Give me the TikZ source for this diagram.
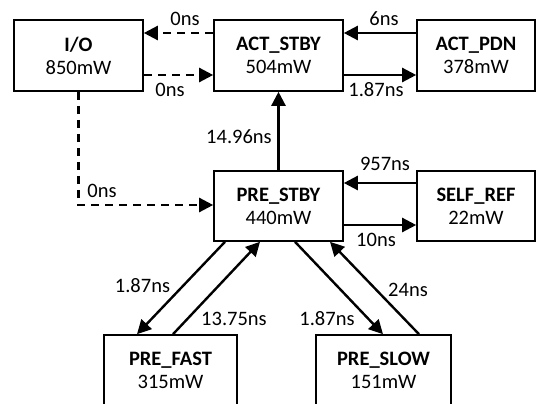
\documentclass[tikz,border=0pt]{standalone}
\usepackage{fontspec}
\setmainfont{Carlito}
\usetikzlibrary{arrows.meta}
\begin{document}
\begin{tikzpicture}[x=1pt,y=-1pt,
  box/.style={draw, line width=1.6pt, align=center, inner sep=0pt,
    font=\fontsize{20.5}{23}\selectfont},
  lbl/.style={inner sep=0pt, font=\fontsize{20.5}{23}\selectfont},
  arr/.style={line width=2.4pt, -{Triangle[length=14pt,width=14pt]}},
  darr/.style={arr, dash pattern=on 8pt off 6pt}]
\useasboundingbox (0,0) rectangle (536,404);
\node[box, minimum width=129pt, minimum height=71pt] (io) at (78.5,55.5) {\textbf{I/O}\\850mW};
\node[box, minimum width=129pt, minimum height=71pt] (act) at (278.5,55.5) {\textbf{ACT\_STBY}\\504mW};
\node[box, minimum width=118pt, minimum height=71pt] (pdn) at (476,55.5) {\textbf{ACT\_PDN}\\378mW};
\node[box, minimum width=129pt, minimum height=70pt] (pre) at (278.5,206) {\textbf{PRE\_STBY}\\440mW};
\node[box, minimum width=118pt, minimum height=70pt] (self) at (476,206) {\textbf{SELF\_REF}\\22mW};
\node[box, minimum width=133pt, minimum height=70pt] (fast) at (170.5,370) {\textbf{PRE\_FAST}\\315mW};
\node[box, minimum width=135pt, minimum height=70pt] (slow) at (383.5,370) {\textbf{PRE\_SLOW}\\151mW};
% top row
\draw[darr] ([yshift=22.5pt]act.west) -- ([yshift=22.5pt]io.east);
\draw[darr] ([yshift=-19.5pt]io.west -| io.east) -- ([yshift=-19.5pt]act.west);
\draw[arr] ([yshift=22.5pt]pdn.west) -- ([yshift=22.5pt]act.east);
\draw[arr] ([yshift=-19.5pt]act.east) -- ([yshift=-19.5pt]pdn.west);
% vertical
\draw[arr] (pre.north) -- (act.south);
\coordinate (corner) at (io.south |- pre.west);
\draw[darr] (io.south) -- ([yshift=1pt]corner) -- ([yshift=1pt]pre.west);
% self ref
\draw[arr] ([yshift=23pt]self.west) -- ([yshift=23pt]pre.east);
\draw[arr] ([yshift=-19pt]pre.east) -- ([yshift=-19pt]self.west);
% diagonals
\draw[arr] ([xshift=-53.5pt]pre.south) -- ([xshift=-33.5pt]fast.north);
\draw[arr] ([xshift=2.5pt]fast.north) -- ([xshift=-18.5pt]pre.south);
\draw[arr] ([xshift=16.5pt]pre.south) -- ([xshift=-0.5pt]slow.north);
\draw[arr] ([xshift=35.5pt]slow.north) -- ([xshift=51.5pt]pre.south);
% labels
\node[lbl] (l1) at (185,18.5) {0ns};
\node[lbl] (l2) at (170,90) {0ns};
\node[lbl] (l3) at (384,19) {6ns};
\node[lbl] (l4) at (376,90) {1.87ns};
\node[lbl] (l5) at (239,137) {14.96ns};
\node[lbl] (l6) at (102,191) {0ns};
\node[lbl] (l7) at (385,164) {957ns};
\node[lbl] (l8) at (376,240) {10ns};
\node[lbl] (l9) at (142.5,286) {1.87ns};
\node[lbl] (l10) at (234,319) {13.75ns};
\node[lbl] (l11) at (327,319) {1.87ns};
\node[lbl] (l12) at (408,290) {24ns};
\end{tikzpicture}
\end{document}
